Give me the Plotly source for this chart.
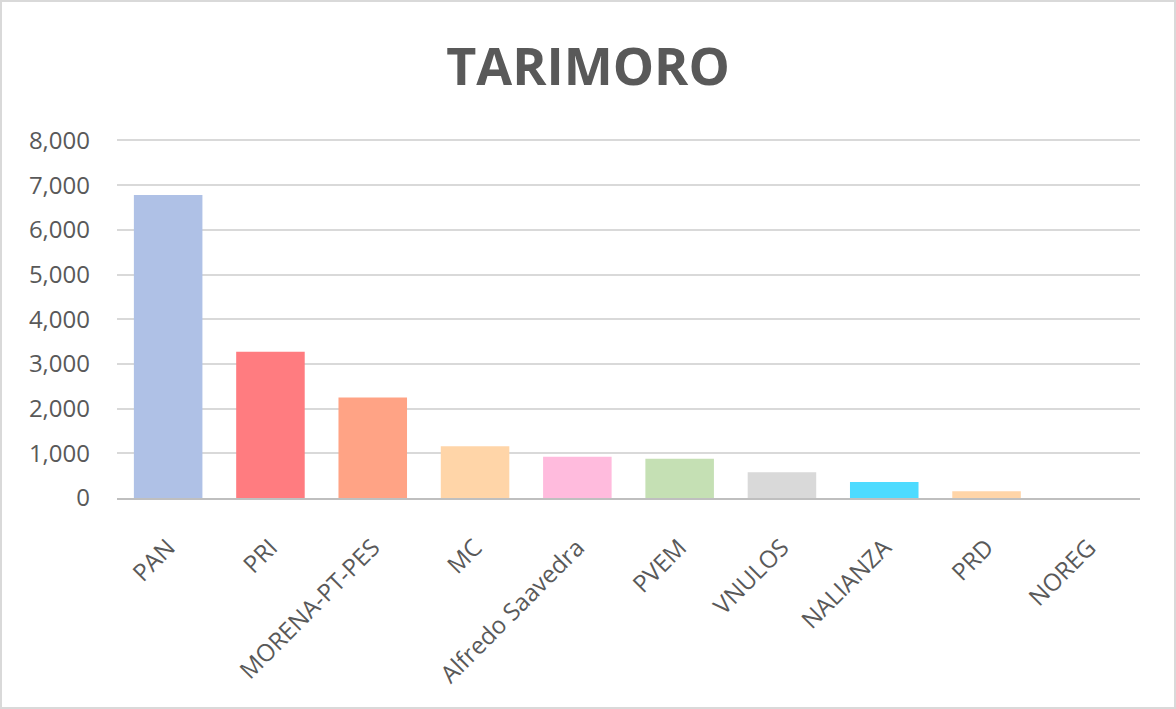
import plotly.graph_objects as go

categories = ["PAN", "PRI", "MORENA-PT-PES", "MC", "Alfredo Saavedra", "PVEM",
              "VNULOS", "NALIANZA", "PRD", "NOREG"]
values = [6780, 3270, 2250, 1160, 925, 880, 575, 360, 150, 5]
colors = ["#AFC1E6", "#FF7C80", "#FFA385", "#FFD5A8", "#FFBBDD", "#C5E0B4",
          "#D9D9D9", "#4DDBFF", "#FFD5A8", "#FFFFFF"]
yticks = [0, 1000, 2000, 3000, 4000, 5000, 6000, 7000, 8000]
yticklabels = ["0", "1,000", "2,000", "3,000", "4,000", "5,000", "6,000", "7,000", "8,000"]

fig = go.Figure(go.Bar(x=categories, y=values, marker=dict(color=colors, line=dict(width=0))))

L, R, T, B = 117, 36, 136, 211
PW, PH = 1176 - L - R, 709 - T - B
fig.update_layout(
    width=1176, height=709,
    paper_bgcolor="white", plot_bgcolor="white",
    margin=dict(l=L, r=R, t=T, b=B, autoexpand=False),
    bargap=0.33,
    title=dict(text="<b>TARIMORO</b>", x=0.5, xanchor="center", y=0.906, yanchor="middle",
               font=dict(family="Open Sans", size=52, color="#595959")),
    font=dict(family="Open Sans", color="#595959"),
    showlegend=False,
    shapes=[dict(type="rect", xref="paper", yref="paper",
                 x0=(-L + 1) / PW, x1=1 + (R - 1) / PW, y0=(-B + 1) / PH, y1=1 + (T - 1) / PH,
                 line=dict(color="#D9D9D9", width=2))],
)
fig.update_yaxes(range=[0, 8100], tickvals=yticks, ticktext=yticklabels,
                 showgrid=True, gridcolor="#D9D9D9", gridwidth=1.5,
                 zeroline=False, tickfont=dict(size=24, color="#595959"),
                 ticks="", showline=False, ticklabelstandoff=26)
fig.update_xaxes(tickangle=-45, tickfont=dict(size=24, color="#595959"),
                 showline=True, linecolor="#BFBFBF", linewidth=2, ticks="",
                 ticklabelstandoff=24)
fig.write_html("out.html", config={"displayModeBar": False},
               post_script="document.body.style.margin='0';document.body.style.overflow='hidden';")
